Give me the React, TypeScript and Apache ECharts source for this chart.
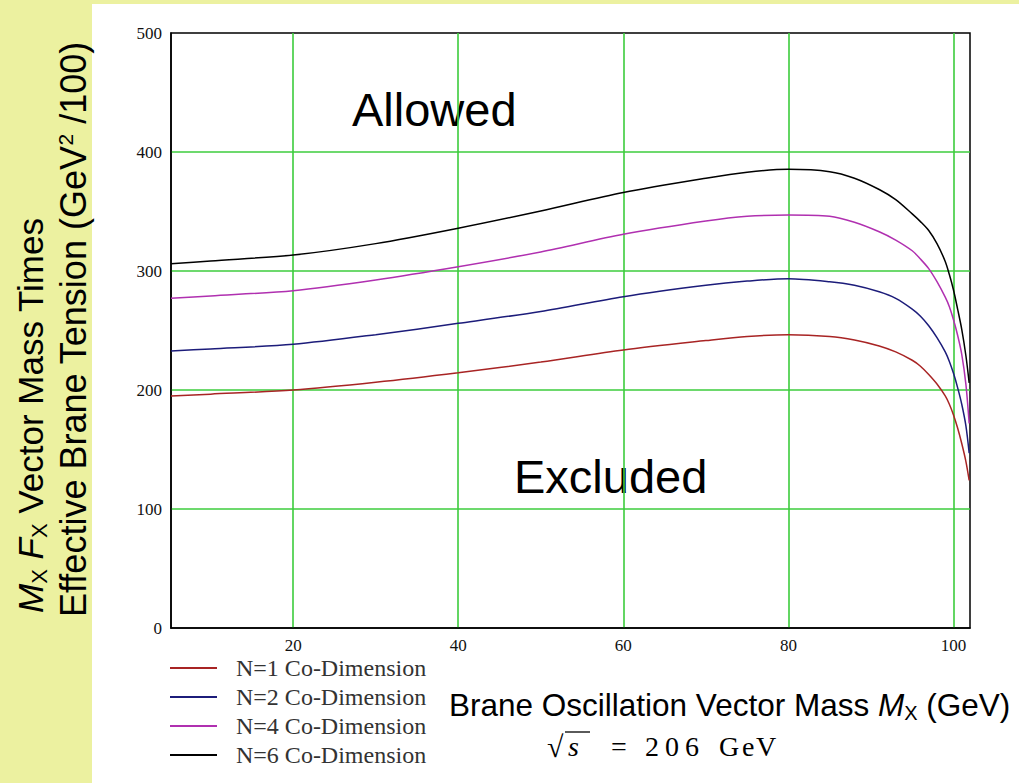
import React, { useEffect, useRef } from "react";
import * as echarts from "echarts";

const massX = [5.2, 10, 20, 30, 40, 50, 60, 70, 75, 80, 85, 88, 91, 93, 95, 96, 97, 98, 99, 99.5, 100, 100.5, 101, 101.5, 101.9];
const n1 = [195, 196.5, 200, 206.5, 214.5, 223.5, 233.6, 241.5, 245, 246.5, 245, 242, 237, 232, 225, 220, 213, 205, 195, 188, 179, 168, 155, 140, 124];
const n2 = [232.8, 234.5, 238.4, 246.5, 256, 266, 278.4, 288, 291.5, 293.5, 291, 288, 282.5, 277, 268, 262, 254, 244, 232, 224, 214, 202, 188, 170, 147];
const n4 = [277, 279, 283.5, 292.5, 303.6, 316, 330.8, 342, 346, 347, 346, 341, 333, 326, 317, 310, 302, 291, 278, 270, 259, 246, 230, 205, 172];
const n6 = [306, 308.5, 313.4, 323, 336, 350.5, 366, 378, 383, 385.4, 383.5, 378, 368.5, 360, 348, 341.5, 334, 323, 308, 297, 284, 268, 251, 229, 206];

const seriesNames = ["N=1 Co-Dimension", "N=2 Co-Dimension", "N=4 Co-Dimension", "N=6 Co-Dimension"];
const seriesColors = ["#a82424", "#1c1c7a", "#b030b0", "#000000"];
const seriesValues = [n1, n2, n4, n6];
const xTicks = [20, 40, 60, 80, 100];

const energyTokens = ["√", "s", "=", "2", "0", "6", "G", "e", "V"];

const SANS = "'Liberation Sans', Arial, sans-serif";
const SERIF = "'Liberation Serif', 'Times New Roman', serif";

export default function App() {
  const ref = useRef<HTMLDivElement>(null);
  useEffect(() => {
    if (!ref.current) return;
    const chart = echarts.init(ref.current, undefined, { renderer: "svg" });

    const tokenX = [547, 568, 611, 645, 665, 685, 719, 742, 756];
    const energyText = energyTokens.map((t, i) => ({
      type: "text",
      x: tokenX[i],
      y: 746,
      style: {
        text: t,
        fontFamily: SERIF,
        fontSize: i === 0 ? 30 : 28,
        fontStyle: i === 1 ? "italic" : "normal",
        fill: "#000",
        align: "left",
        verticalAlign: "middle",
      },
    }));

    chart.setOption({
      animation: false,
      backgroundColor: "transparent",
      grid: {
        left: 171,
        top: 33,
        right: 49,
        bottom: 155,
        show: true,
        borderColor: "#000",
        borderWidth: 1.5,
        backgroundColor: "transparent",
      },
      xAxis: {
        type: "value",
        min: 5.2,
        max: 102,
        axisLine: { show: true, lineStyle: { color: "#000", width: 1.5 } },
        axisTick: { show: false, customValues: xTicks },
        axisLabel: {
          customValues: xTicks,
          fontFamily: SERIF,
          fontSize: 17,
          color: "#111",
          margin: 9,
        },
        splitLine: { show: true, lineStyle: { color: "#3ccc3c", width: 1.6 } },
      },
      yAxis: {
        type: "value",
        min: 0,
        max: 500,
        interval: 100,
        axisLine: { show: true, lineStyle: { color: "#000", width: 1.5 } },
        axisTick: { show: false },
        axisLabel: { fontFamily: SERIF, fontSize: 17, color: "#111", margin: 9 },
        splitLine: {
          show: true,
          showMinLine: false,
          showMaxLine: false,
          lineStyle: { color: "#3ccc3c", width: 1.6 },
        },
      },
      legend: {
        orient: "vertical",
        left: 170,
        top: 656,
        icon: "rect",
        itemWidth: 47,
        itemHeight: 2,
        itemGap: 5,
        padding: 0,
        textStyle: {
          fontFamily: SERIF,
          fontSize: 24,
          lineHeight: 24,
          color: "#333",
          padding: [0, 0, 0, 14],
        },
        data: seriesNames,
      },
      series: seriesNames.map((name, k) => ({
        name,
        type: "line",
        symbol: "none",
        smooth: 0.3,
        color: seriesColors[k],
        lineStyle: { color: seriesColors[k], width: 1.5 },
        data: massX.map((x, i) => [x, seriesValues[k][i]]),
      })),
      graphic: [
        {
          type: "text",
          x: 30,
          y: 613,
          rotation: Math.PI / 2,
          style: {
            text: "{i|M}{sub|X} {i|F}{sub|X} Vector Mass Times",
            fontFamily: SANS,
            fontSize: 35,
            fill: "#000",
            align: "left",
            verticalAlign: "middle",
            rich: {
              i: { fontFamily: SANS, fontSize: 35, fontStyle: "italic", lineHeight: 40 },
              sub: { fontFamily: SANS, fontSize: 22, lineHeight: 24, verticalAlign: "bottom" },
            },
          },
        },
        {
          type: "text",
          x: 73,
          y: 617,
          rotation: Math.PI / 2,
          style: {
            text: "Effective Brane Tension (GeV{sup|2} /100)",
            fontFamily: SANS,
            fontSize: 36,
            fill: "#000",
            align: "left",
            verticalAlign: "middle",
            rich: {
              sup: { fontFamily: SANS, fontSize: 21, lineHeight: 22, verticalAlign: "top" },
            },
          },
        },
        {
          type: "text",
          x: 352,
          y: 109,
          style: {
            text: "Allowed",
            fontFamily: SANS,
            fontSize: 47,
            fill: "#000",
            align: "left",
            verticalAlign: "middle",
          },
        },
        {
          type: "text",
          x: 514,
          y: 476,
          style: {
            text: "Excluded",
            fontFamily: SANS,
            fontSize: 47,
            fill: "#000",
            align: "left",
            verticalAlign: "middle",
          },
        },
        {
          type: "text",
          x: 449,
          y: 705,
          style: {
            text: "Brane Oscillation Vector Mass {i|M}{sub|X} (GeV)",
            fontFamily: SANS,
            fontSize: 31.5,
            fill: "#000",
            align: "left",
            verticalAlign: "middle",
            rich: {
              i: { fontFamily: SANS, fontSize: 31.5, fontStyle: "italic", lineHeight: 36 },
              sub: { fontFamily: SANS, fontSize: 20, lineHeight: 21, verticalAlign: "bottom" },
            },
          },
        },
        ...energyText,
        {
          type: "line",
          shape: { x1: 565, y1: 732, x2: 590, y2: 732 },
          style: { stroke: "#000", lineWidth: 1.3 },
        },
      ],
    });
    return () => chart.dispose();
  }, []);

  return (
    <div style={{ position: "fixed", left: 0, top: 0, width: 1019, height: 783, background: "#ecf1a0", overflow: "hidden" }}>
      <div style={{ position: "absolute", left: 92, top: 4, right: 0, bottom: 0, background: "#ffffff" }} />
      <div ref={ref} style={{ position: "absolute", left: 0, top: 0, width: 1019, height: 783 }} />
    </div>
  );
}
